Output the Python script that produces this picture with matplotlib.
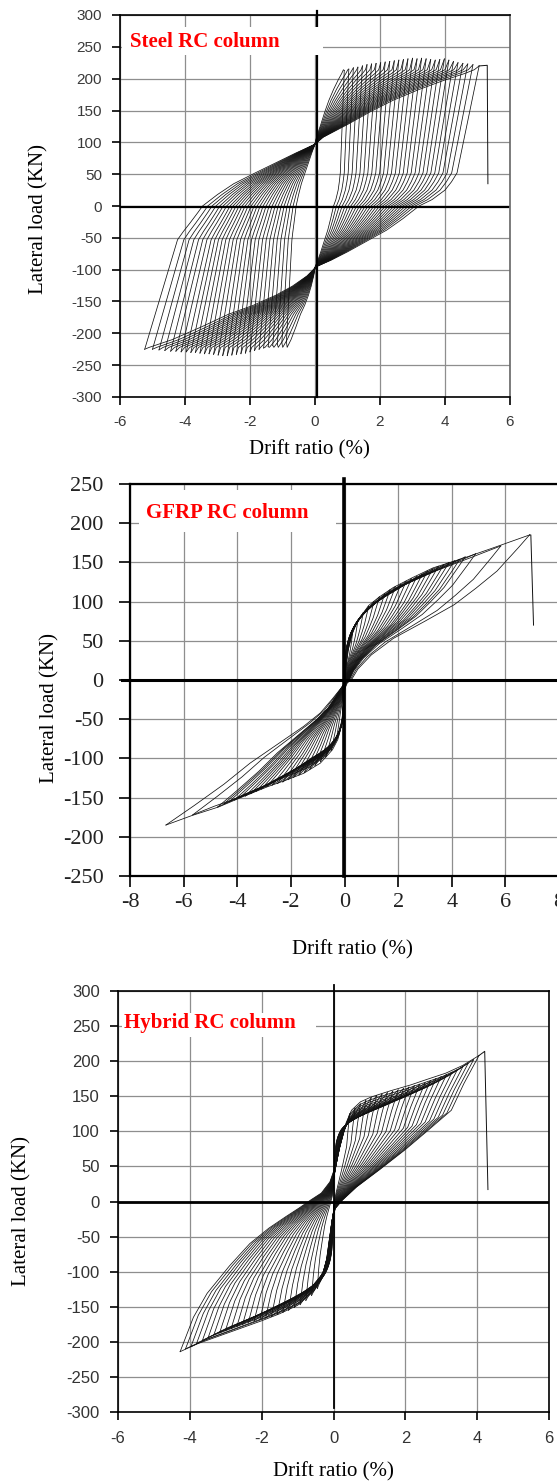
import matplotlib
matplotlib.use('Agg')
import matplotlib.pyplot as plt
from matplotlib.patches import Rectangle

plt.rcParams['axes.unicode_minus'] = False

# ---------------- Steel RC column ----------------
# outermost loop (upper = towards +, lower = towards -)
steel_up_x = [-5.24, -4.23, -4.05, -3.85, -3.6, -3.46, -3.0, -2.5, -1.8, -1.2, -0.6, 0.0,
              0.25, 1.0, 1.7, 2.4, 3.2, 4.0, 4.6, 4.9, 5.05]
steel_up_y = [-225, -53, -40, -27, -10, 0, 18, 35, 53, 68, 83, 97,
              108, 128, 148, 166, 183, 198, 208, 214, 220]
steel_dn_x = [5.05, 4.37, 4.2, 4.0, 3.6, 3.2, 2.7, 2.2, 1.6, 1.0, 0.5, 0.05,
              -0.25, -0.7, -1.2, -1.9, -2.66, -3.5, -4.4, -5.1, -5.24]
steel_dn_y = [220, 52, 38, 25, 10, 0, -20, -38, -55, -72, -85, -95,
              -110, -126, -140, -156, -170, -190, -210, -222, -225]
# cycle peaks
steel_dp = [0.90, 1.04, 1.18, 1.32, 1.46, 1.60, 1.74, 1.88, 2.02, 2.16, 2.30, 2.44, 2.58, 2.72, 2.86,
            3.00, 3.14, 3.28, 3.42, 3.56, 3.70, 3.84, 3.98, 4.12, 4.26, 4.40, 4.55, 4.70, 4.86, 5.05]
steel_Pp = [213, 215, 217, 218, 220, 222, 223, 224, 225, 226, 227, 228, 229, 230, 231,
            232, 231, 232, 231, 230, 229, 230, 231, 229, 227, 225, 224, 223, 222, 220]
steel_dn = [-0.88, -1.02, -1.16, -1.30, -1.44, -1.58, -1.72, -1.86, -2.00, -2.14, -2.28, -2.42,
            -2.56, -2.70, -2.84, -2.98, -3.12, -3.26, -3.40, -3.54, -3.68, -3.82, -3.96, -4.12,
            -4.28, -4.44, -4.62, -4.80, -5.00, -5.24]
steel_Pn = [-213, -215, -217, -219, -221, -223, -225, -227, -229, -231, -232, -233, -234, -235, -235,
            -234, -233, -232, -232, -231, -230, -230, -229, -229, -228, -228, -227, -226, -225, -225]
steel_fail_x = [5.05, 5.30, 5.32]
steel_fail_y = [220, 221, 35]

# ---------------- GFRP RC column ----------------
gfrp_up_x = [-6.66, -5.6, -4.5, -3.52, -2.5, -1.52, -0.9, -0.45, -0.05, 0.05, 0.15, 0.3, 0.48,
             0.9, 1.3, 1.82, 2.5, 3.3, 4.49, 5.5, 6.9]
gfrp_up_y = [-185, -160, -133, -106, -82, -59, -42, -24, -7, 15, 40, 60, 75,
             95, 106, 118, 130, 143, 156, 168, 185]
gfrp_dn_x = [6.9, 6.49, 5.69, 4.9, 4.09, 3.0, 1.82, 1.0, 0.5, 0.28, 0.1, 0.015, -0.05, -0.12,
             -0.25, -0.45, -0.9, -1.52, -2.2, -2.86, -3.8, -4.7, -5.7, -6.66]
gfrp_dn_y = [185, 169, 139, 117, 96, 75, 53, 32, 14, 1.5, -4, -11, -35, -59,
             -76, -89, -106, -119, -128, -136, -149, -162, -173, -185]
gfrp_dp = [0.3, 0.5, 0.7, 0.9, 1.1, 1.3, 1.5, 1.7, 1.9, 2.1, 2.3, 2.5, 2.7, 2.9, 3.1, 3.3,
           3.5, 3.7, 3.9, 4.1, 4.3, 4.5, 4.89, 5.83, 6.9]
gfrp_Pp = [60, 76, 86, 94, 100, 106, 110, 115, 119, 122, 126, 129, 132, 135, 139, 142,
           145, 147, 150, 152, 154, 157, 161, 171, 185]
gfrp_dn = [-0.3, -0.5, -0.7, -0.9, -1.1, -1.3, -1.5, -1.7, -1.9, -2.1, -2.3, -2.5, -2.7, -2.9,
           -3.1, -3.3, -3.5, -3.7, -3.9, -4.1, -4.3, -4.5, -4.73, -5.66, -6.66]
gfrp_Pn = [-75, -90, -98, -104, -109, -114, -118, -121, -124, -127, -130, -132, -134, -136,
           -139, -142, -145, -148, -150, -153, -155, -158, -162, -172, -185]
gfrp_fail_x = [6.9, 6.95, 7.05]
gfrp_fail_y = [185, 185, 70]

# ---------------- Hybrid RC column ----------------
hyb_up_x = [-4.27, -3.9, -3.52, -2.9, -2.33, -1.8, -1.34, -0.95, -0.64, -0.34, -0.1, 0.05, 0.2,
            0.35, 0.5, 0.75, 1.05, 1.6, 2.14, 2.6, 3.13, 3.6, 4.05]
hyb_up_y = [-214, -165, -131, -92, -60, -38, -22, -9, 2, 12, 28, 50, 85,
            112, 130, 142, 149, 158, 166, 174, 183, 194, 208]
hyb_dn_x = [4.05, 3.63, 3.28, 2.6, 2.0, 1.3, 0.65, 0.25, 0.05, -0.05, -0.2, -0.35, -0.55,
            -1.0, -1.5, -2.0, -2.6, -3.2, -3.8, -4.27]
hyb_dn_y = [208, 168, 130, 100, 74, 46, 21, 2, -10, -30, -85, -112, -128,
            -148, -160, -170, -181, -192, -203, -214]
hyb_dp = [0.45, 0.6, 0.75, 0.9, 1.05, 1.2, 1.35, 1.5, 1.65, 1.8, 1.95, 2.1, 2.25, 2.4, 2.55,
          2.7, 2.85, 3.0, 3.15, 3.3, 3.45, 3.6, 3.75, 3.9, 4.05]
hyb_Pp = [125, 133, 139, 144, 148, 151, 153, 155, 157, 159, 161, 163, 165, 167, 169,
          172, 175, 178, 181, 184, 188, 192, 197, 202, 208]
hyb_dn = [-0.45, -0.61, -0.77, -0.93, -1.09, -1.25, -1.41, -1.57, -1.73, -1.89, -2.05, -2.21,
          -2.37, -2.53, -2.69, -2.85, -3.01, -3.17, -3.33, -3.49, -3.65, -3.81, -3.97, -4.12, -4.27]
hyb_Pn = [-124, -134, -141, -147, -151, -155, -158, -161, -164, -166, -168, -170, -172, -175,
          -178, -181, -184, -187, -190, -194, -198, -202, -207, -210, -214]
hyb_fail_x = [4.05, 4.21, 4.30]
hyb_fail_y = [208, 214, 17]

W, H = 557, 1484
fig = plt.figure(figsize=(W / 100, H / 100), dpi=100)


def rect(l, t, r, b):
    return [l / W, 1 - b / H, (r - l) / W, (b - t) / H]


def draw_cycles(ax, tux, tuy, tdx, tdy, dp, Pp, dn, Pn, scale_y):
    dp0, Pp0 = tux[-1], tuy[-1]
    dn0, Pn0 = tux[0], tuy[0]
    for i in range(len(dp)):
        xp, xn = dp[i] / dp0, dn[i] / dn0
        yp = Pp[i] / Pp0 if scale_y else 1.0
        yn = Pn[i] / Pn0 if scale_y else 1.0
        for tx, ty, a, b in ((tux, tuy, (dn[i], Pn[i]), (dp[i], Pp[i])),
                             (tdx, tdy, (dp[i], Pp[i]), (dn[i], Pn[i]))):
            xs = [x * xp if x > 0 else x * xn for x in tx]
            ys = [y * yp if y > 0 else y * yn for y in ty]
            xs[0], ys[0] = a
            xs[-1], ys[-1] = b
            ax.plot(xs, ys, color='#111111', lw=0.55, zorder=3)


def setup(ax, xlim, ylim, xstep, ystep, font, size, tcolor, padx, pady, tlen, spw):
    ax.set_xlim(*xlim)
    ax.set_ylim(*ylim)
    ax.set_xticks(range(xlim[0], xlim[1] + 1, xstep))
    ax.set_yticks(range(ylim[0], ylim[1] + 1, ystep))
    ax.grid(True, color='#8e8e8e', lw=0.9)
    ax.set_axisbelow(True)
    ax.tick_params(axis='x', direction='out', length=tlen, width=1.2, pad=padx,
                   labelsize=size, labelcolor=tcolor)
    ax.tick_params(axis='y', direction='out', length=tlen, width=1.2, pad=pady,
                   labelsize=size, labelcolor=tcolor)
    for lab in ax.get_xticklabels() + ax.get_yticklabels():
        lab.set_fontfamily(font)
    for s in ax.spines.values():
        s.set_linewidth(spw)
        s.set_color('black')


def labels(ax, xl, yl):
    ax.set_xlabel('Drift ratio (%)', fontfamily='Liberation Serif', fontsize=15)
    ax.set_ylabel('Lateral load (KN)', fontfamily='Liberation Serif', fontsize=15)
    ax.xaxis.set_label_coords(*xl)
    ax.yaxis.set_label_coords(*yl)
    ax.xaxis.label.set_va('center')
    ax.yaxis.label.set_va('center')


def title(ax, txt, tx, ty, rx, ry, rw, rh):
    ax.add_patch(Rectangle((rx, ry), rw, rh, facecolor='white', edgecolor='none', zorder=5))
    ax.text(tx, ty, txt, color='#ff0000', fontsize=15, fontweight='bold',
            fontfamily='Liberation Serif', ha='left', va='center', zorder=6)


# Panel 1
ax1 = fig.add_axes(rect(120, 15, 510, 397))
setup(ax1, (-6, 6), (-300, 300), 2, 50, 'Liberation Sans', 11, '#3a3a3a', 7, 7, 6, 1.2)
ax1.spines['right'].set_color('#666666')
draw_cycles(ax1, steel_up_x, steel_up_y, steel_dn_x, steel_dn_y,
            steel_dp, steel_Pp, steel_dn, steel_Pn, False)
ax1.plot(steel_fail_x, steel_fail_y, color='#111111', lw=0.7, zorder=3)
ax1.plot([-6, 5.95], [-1, -1], color='black', lw=1.6, zorder=4)
ax1.plot([0.05, 0.05], [-300, 306], color='black', lw=1.6, zorder=4, clip_on=False)
title(ax1, 'Steel RC column', -5.7, 258, -5.93, 237, 6.18, 44)
labels(ax1, (0.487, -0.139), (-0.208, 0.466))

# Panel 2
ax2 = fig.add_axes(rect(130, 484, 559, 876))
setup(ax2, (-8, 8), (-250, 250), 2, 50, 'Liberation Serif', 16, '#222222', 4, 11, 8, 1.6)
draw_cycles(ax2, gfrp_up_x, gfrp_up_y, gfrp_dn_x, gfrp_dn_y,
            gfrp_dp, gfrp_Pp, gfrp_dn, gfrp_Pn, True)
ax2.plot(gfrp_fail_x, gfrp_fail_y, color='#111111', lw=0.7, zorder=3)
ax2.plot([-8.3, 8], [0, 0], color='black', lw=2.2, zorder=4, clip_on=False)
ax2.plot([-0.03, -0.03], [-250, 257], color='black', lw=2.6, zorder=4, clip_on=False)
title(ax2, 'GFRP RC column', -7.4, 213, -7.68, 189, 7.38, 53)
labels(ax2, (0.519, -0.189), (-0.186, 0.429))

# Panel 3
ax3 = fig.add_axes(rect(118, 991, 549, 1412))
setup(ax3, (-6, 6), (-300, 300), 2, 50, 'Liberation Sans', 12, '#333333', 8, 7, 6, 1.2)
draw_cycles(ax3, hyb_up_x, hyb_up_y, hyb_dn_x, hyb_dn_y,
            hyb_dp, hyb_Pp, hyb_dn, hyb_Pn, True)
ax3.plot(hyb_fail_x, hyb_fail_y, color='#111111', lw=0.7, zorder=3)
ax3.plot([-6, 6], [0, 0], color='black', lw=2.0, zorder=4)
ax3.plot([0.0, 0.0], [-295, 308], color='black', lw=1.3, zorder=4, clip_on=False)
title(ax3, 'Hybrid RC column', -5.83, 254, -5.9, 234, 5.42, 35)
labels(ax3, (0.501, -0.143), (-0.224, 0.477))

fig.savefig('out.png', dpi=100)
